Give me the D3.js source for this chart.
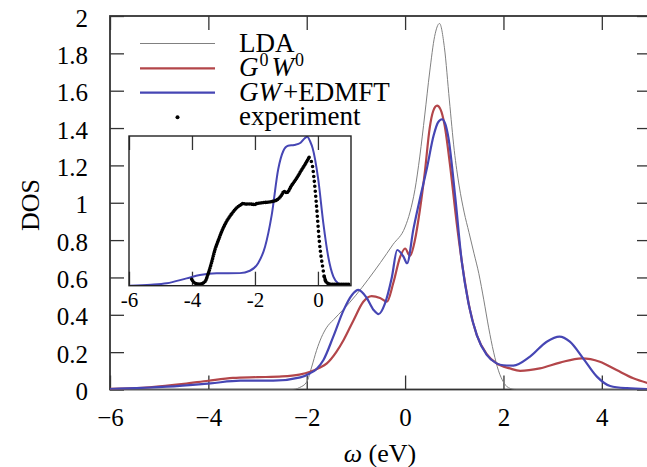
<!DOCTYPE html>
<html>
<head>
<meta charset="utf-8">
<script src="https://cdn.jsdelivr.net/npm/d3@7"></script>
<style>
  body { margin: 0; background: #fff; }
  svg { display: block; font-family: "Liberation Serif", serif; }
</style>
</head>
<body>
<script>
// values: [omega (eV), DOS]
const lda = [[-6,0],[-2.3,0],[-2.15,0.01],[-2.0,0.04],[-1.9,0.12],[-1.8,0.21],[-1.7,0.28],[-1.6,0.33],
  [-1.45,0.375],[-1.25,0.43],[-1.0,0.505],[-0.75,0.59],[-0.5,0.68],[-0.25,0.775],[0,0.87],[0.1,0.95],
  [0.2,1.07],[0.3,1.25],[0.4,1.47],[0.5,1.70],[0.6,1.89],[0.7,1.96],[0.8,1.83],[0.9,1.55],[1.0,1.28],
  [1.1,1.09],[1.2,0.95],[1.3,0.84],[1.4,0.73],[1.5,0.62],[1.6,0.48],[1.7,0.33],[1.8,0.2],[1.9,0.1],
  [2.0,0.04],[2.1,0.01],[2.25,0],[5,0]];
const g0w0 = [[-6,0.003],[-5.2,0.012],[-4.5,0.03],[-4.0,0.047],[-3.5,0.062],[-3.0,0.066],[-2.5,0.07],
  [-2.15,0.08],[-1.93,0.095],[-1.75,0.115],[-1.59,0.14],[-1.4,0.2],[-1.25,0.265],[-1.05,0.37],
  [-0.85,0.47],[-0.68,0.5],[-0.51,0.49],[-0.37,0.47],[-0.24,0.57],[-0.1,0.71],[0,0.755],[0.1,0.715],
  [0.2,0.8],[0.3,0.96],[0.4,1.16],[0.5,1.4],[0.57,1.49],[0.65,1.52],[0.72,1.5],[0.8,1.42],[0.91,1.21],
  [1.05,0.89],[1.19,0.62],[1.32,0.425],[1.46,0.29],[1.66,0.19],[1.86,0.14],[2.13,0.113],[2.34,0.10],
  [2.74,0.113],[3.15,0.144],[3.59,0.167],[3.96,0.149],[4.3,0.104],[4.64,0.06],[5,0.03]];
const gwEdmft = [[-6,0.002],[-4.84,0.015],[-3.96,0.033],[-3.35,0.047],[-2.68,0.047],[-2.13,0.065],
  [-1.93,0.087],[-1.8,0.11],[-1.66,0.158],[-1.46,0.283],[-1.25,0.425],[-1.08,0.506],[-0.95,0.533],
  [-0.78,0.49],[-0.64,0.426],[-0.54,0.404],[-0.41,0.46],[-0.27,0.6],[-0.16,0.747],[-0.03,0.71],
  [0.04,0.676],[0.17,0.86],[0.3,1.02],[0.44,1.18],[0.58,1.36],[0.67,1.43],[0.75,1.447],[0.82,1.42],
  [0.88,1.35],[1.02,1.03],[1.15,0.69],[1.29,0.46],[1.46,0.29],[1.66,0.185],[1.86,0.14],[2.0,0.13],
  [2.2,0.128],[2.54,0.176],[2.88,0.256],[3.14,0.283],[3.35,0.256],[3.62,0.167],[3.9,0.069],
  [4.17,0.019],[4.51,0.007],[5,0.002]];

// inset, arbitrary units (0 = bottom of inset, 1 = top)
const insetGw = [[-6,0],[-5.3,0.006],[-4.8,0.016],[-4.17,0.049],[-3.75,0.071],[-3.22,0.083],
  [-2.48,0.084],[-2.16,0.1],[-1.9,0.15],[-1.68,0.26],[-1.47,0.47],[-1.26,0.78],[-1.1,0.9],
  [-0.95,0.935],[-0.75,0.94],[-0.55,0.955],[-0.42,0.985],[-0.34,0.995],[-0.24,0.96],[-0.17,0.92],
  [0.01,0.71],[0.17,0.42],[0.33,0.19],[0.49,0.06],[0.64,0.016],[0.8,0.003],[1.05,0]];
const experiment = [[-4.01,0.043],[-3.9,0.016],[-3.75,0.01],[-3.59,0.027],[-3.48,0.083],[-3.37,0.16],
  [-3.27,0.24],[-3.16,0.305],[-3.06,0.36],[-2.9,0.43],[-2.74,0.48],[-2.58,0.52],[-2.45,0.54],
  [-2.37,0.55],[-2.3,0.545],[-2.16,0.546],[-2.0,0.542],[-1.95,0.548],[-1.74,0.555],[-1.52,0.56],
  [-1.31,0.572],[-1.15,0.606],[-1.08,0.63],[-0.99,0.622],[-0.83,0.672],[-0.68,0.717],[-0.52,0.773],
  [-0.36,0.828],[-0.28,0.858],[-0.17,0.795],[-0.12,0.706],[-0.06,0.572],[-0.01,0.439],[0.04,0.305],
  [0.1,0.194],[0.15,0.127],[0.2,0.06],[0.28,0.02],[0.44,0.009],[1.02,0.009]];

const xTicks = [-6, -4, -2, 0, 2, 4];
const yTicks = [0, 0.2, 0.4, 0.6, 0.8, 1, 1.2, 1.4, 1.6, 1.8, 2];
const yTickLabels = ["0", "0.2", "0.4", "0.6", "0.8", "1", "1.2", "1.4", "1.6", "1.8", "2"];
const insetTicks = [-6, -4, -2, 0];
const insetTickLabels = ["-6", "-4", "-2", "0"];

const W = 647, H = 467;
const pL = 110, pR = 651, pT = 16, pB = 389.5;

const svg = d3.select("body").append("svg").attr("width", W).attr("height", H);

const x = d3.scaleLinear().domain([-6, 5]).range([pL, pR]);
const y = d3.scaleLinear().domain([0, 2]).range([pB, pT]);

svg.append("clipPath").attr("id", "plot")
  .append("rect").attr("x", pL).attr("y", pT).attr("width", pR - pL).attr("height", pB - pT);

// axes / ticks
function styleAxis(g) {
  g.select(".domain").remove();
  g.selectAll(".tick line").attr("stroke", "#333").attr("stroke-width", 1.3);
  g.selectAll("text").attr("fill", "#000").attr("font-family", "Liberation Serif, serif");
}
svg.append("g").attr("transform", `translate(0,${pB})`)
  .call(d3.axisBottom(x).tickValues(xTicks).tickSize(-14).tickPadding(19).tickFormat(d3.format("d")))
  .call(styleAxis)
  .selectAll("text").attr("font-size", 25);
svg.append("g").attr("transform", `translate(0,${pT})`)
  .call(d3.axisTop(x).tickValues(xTicks).tickSize(-14).tickFormat(""))
  .call(styleAxis);
svg.append("g").attr("transform", `translate(${pL},0)`)
  .call(d3.axisLeft(y).tickValues(yTicks).tickSize(-14).tickPadding(22).tickFormat((d, i) => yTickLabels[i]))
  .call(styleAxis)
  .selectAll("text").attr("font-size", 25).attr("dy", "0.4em");
svg.append("g").attr("transform", `translate(${pR},0)`)
  .call(d3.axisRight(y).tickValues(yTicks).tickSize(-14).tickFormat(""))
  .call(styleAxis);

svg.append("rect").attr("x", pL).attr("y", pT).attr("width", pR - pL).attr("height", pB - pT)
  .attr("fill", "none").attr("stroke", "#333").attr("stroke-width", 1.8);

// curves
const line = d3.line().x(d => x(d[0])).y(d => y(d[1])).curve(d3.curveMonotoneX);
const curves = svg.append("g").attr("clip-path", "url(#plot)");
curves.append("path").attr("d", line(lda)).attr("fill", "none").attr("stroke", "#808080").attr("stroke-width", 1);
curves.append("path").attr("d", line(g0w0)).attr("fill", "none").attr("stroke", "#b3464a").attr("stroke-width", 2.2);
curves.append("path").attr("d", line(gwEdmft)).attr("fill", "none").attr("stroke", "#4646b4").attr("stroke-width", 2.2);

// axis titles
svg.append("text").attr("transform", "translate(30,205) rotate(-90)")
  .attr("text-anchor", "middle").attr("dominant-baseline", "central").attr("font-size", 26).text("DOS");
const xl = svg.append("text").attr("x", 380).attr("y", 462).attr("text-anchor", "middle").attr("font-size", 26);
xl.append("tspan").attr("font-style", "italic").text("ω");
xl.append("tspan").text(" (eV)");

// legend
const legend = svg.append("g");
const legY = [43.5, 68.3, 92.7, 117.3];
legend.append("line").attr("x1", 140).attr("x2", 215).attr("y1", legY[0]).attr("y2", legY[0])
  .attr("stroke", "#808080").attr("stroke-width", 1);
legend.append("line").attr("x1", 140).attr("x2", 215).attr("y1", legY[1]).attr("y2", legY[1])
  .attr("stroke", "#b3464a").attr("stroke-width", 2.2);
legend.append("line").attr("x1", 140).attr("x2", 215).attr("y1", legY[2]).attr("y2", legY[2])
  .attr("stroke", "#4646b4").attr("stroke-width", 2.2);
legend.append("circle").attr("cx", 177.5).attr("cy", legY[3]).attr("r", 2).attr("fill", "#000");

const tx = 239, fs = 27;
legend.append("text").attr("x", tx).attr("y", legY[0] + 8).attr("font-size", fs).text("LDA");
const t2 = legend.append("text").attr("x", tx).attr("y", legY[1] + 8).attr("font-size", fs);
t2.append("tspan").attr("font-style", "italic").text("G");
t2.append("tspan").attr("font-size", 18).attr("dx", 1).attr("dy", -10).text("0");
t2.append("tspan").attr("font-style", "italic").attr("dx", 3).attr("dy", 10).text("W");
t2.append("tspan").attr("font-size", 18).attr("dx", 1).attr("dy", -10).text("0");
const t3 = legend.append("text").attr("x", tx).attr("y", legY[2] + 8).attr("font-size", fs);
t3.append("tspan").attr("font-style", "italic").text("GW");
t3.append("tspan").attr("dx", 2).text("+EDMFT");
legend.append("text").attr("x", tx).attr("y", legY[3] + 8).attr("font-size", fs).text("experiment");

// inset
const il = 129, ir = 351, it = 136, ib = 285.7;
const ix = d3.scaleLinear().domain([-6, 1.05]).range([il, ir]);
const iy = d3.scaleLinear().domain([0, 1]).range([ib, it]);
const inset = svg.append("g");
inset.append("rect").attr("x", il).attr("y", it).attr("width", ir - il).attr("height", ib - it).attr("fill", "#fff");
svg.append("clipPath").attr("id", "insetclip")
  .append("rect").attr("x", il).attr("y", it).attr("width", ir - il).attr("height", ib - it);

inset.append("g").attr("transform", `translate(0,${ib})`)
  .call(d3.axisBottom(ix).tickValues(insetTicks).tickSize(-14).tickPadding(21).tickFormat((d, i) => insetTickLabels[i]))
  .call(styleAxis)
  .selectAll("text").attr("font-size", 21).attr("dy", 0);
inset.append("g").attr("transform", `translate(0,${it})`)
  .call(d3.axisTop(ix).tickValues(insetTicks).tickSize(-14).tickFormat(""))
  .call(styleAxis);

const iline = d3.line().x(d => ix(d[0])).y(d => iy(d[1])).curve(d3.curveMonotoneX);
const ic = inset.append("g").attr("clip-path", "url(#insetclip)");
ic.append("path").attr("d", iline(insetGw)).attr("fill", "none").attr("stroke", "#4646b4").attr("stroke-width", 2);

// experiment: dense parts look like a beaded thick line, the steep edge shows separate dots
const dense1 = experiment.filter(d => d[0] <= -0.28);
const edge = experiment.filter(d => d[0] >= -0.28 && d[0] <= 0.28);
const dense2 = experiment.filter(d => d[0] >= 0.2);
[[dense1, "0 1.8"], [edge, "0 5"], [dense2, "0 1.8"]].forEach(([pts, dash]) => {
  ic.append("path").attr("d", iline(pts)).attr("fill", "none").attr("stroke", "#000")
    .attr("stroke-width", 3.6).attr("stroke-linecap", "round").attr("stroke-dasharray", dash);
});

inset.append("rect").attr("x", il).attr("y", it).attr("width", ir - il).attr("height", ib - it)
  .attr("fill", "none").attr("stroke", "#222").attr("stroke-width", 1.4);
</script>
</body>
</html>
